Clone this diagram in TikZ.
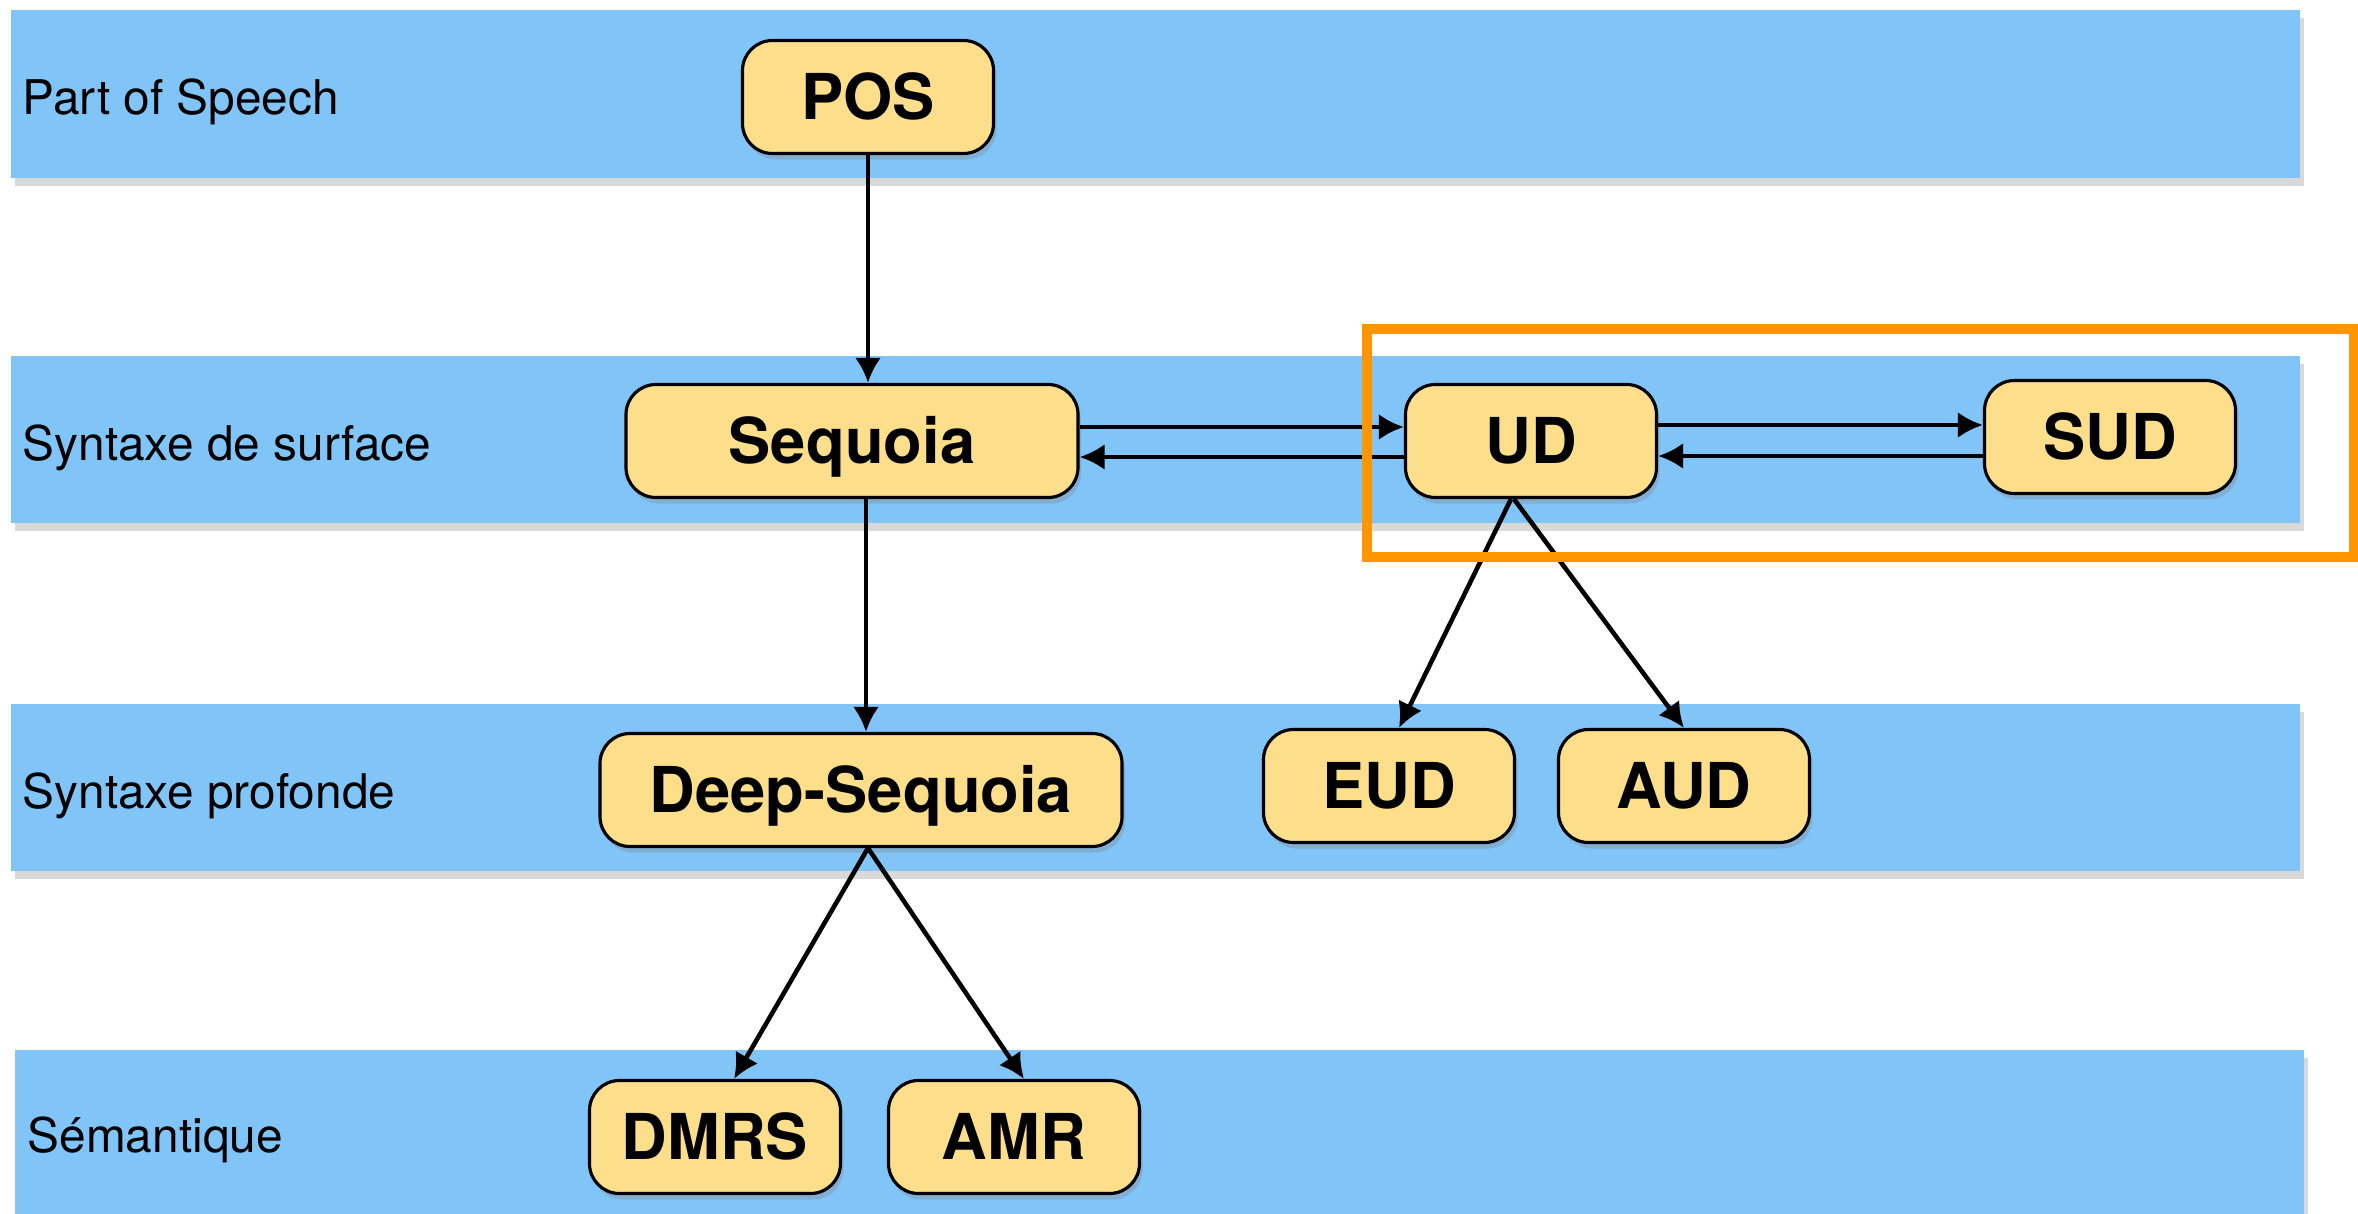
\documentclass[tikz,border=0pt]{standalone}
\usepackage{fontspec}
\setmainfont{TeX Gyre Heros}
\usepackage{xcolor}
\usetikzlibrary{arrows.meta,shadows,calc}
\definecolor{bandblue}{RGB}{128,196,248}
\definecolor{boxyellow}{RGB}{252,222,139}
\definecolor{frameorange}{RGB}{255,149,0}

\begin{document}
\begin{tikzpicture}[x=0.1mm,y=-0.1mm,
	band/.style={fill=bandblue,drop shadow={shadow xshift=0.4mm,shadow yshift=-0.8mm,opacity=0.3}},
	layer/.style={anchor=west,inner sep=0pt,font=\fontsize{13.6}{16}\selectfont},
	fmt/.style={draw=black,line width=0.9pt,fill=boxyellow,rounded corners=3mm,minimum height=11.3mm,minimum width=25.1mm,text height=13pt,text depth=0pt,font=\fontsize{18}{21}\selectfont\bfseries,drop shadow={shadow xshift=0.3mm,shadow yshift=-0.6mm,opacity=0.3}},
	conv/.style={-{Latex[length=2.5mm,width=2.6mm]},line width=1.3pt}]
	\useasboundingbox (0,0) rectangle (2358,1214);
	% layers
	\fill[band] (11,10) rectangle (2300,178);
	\fill[band] (11,356) rectangle (2300,523);
	\fill[band] (11,704) rectangle (2300,871);
	\fill[band] (15,1050) rectangle (2304,1214);
	\node[layer] (pos label) at (22,102) {Part of Speech};
	\node[layer] (surf label) at (22,448) {Syntaxe de surface};
	\node[layer] (deep label) at (22,796) {Syntaxe profonde};
	\node[layer] (sem label) at (27,1140) {Sémantique};
	% formats
	\node[fmt] (POS) at (868,97) {POS};
	\node[fmt,minimum width=45.2mm] (Sequoia) at (852,441) {Sequoia};
	\node[fmt] (UD) at (1531,441) {UD};
	\node[fmt] (SUD) at (2110,437) {SUD};
	\node[fmt,minimum width=52.2mm] (DeepSequoia) at (861,790) {Deep-Sequoia};
	\node[fmt] (EUD) at (1389,786) {EUD};
	\node[fmt] (AUD) at (1684,786) {AUD};
	\node[fmt] (DMRS) at (715,1137) {DMRS};
	\node[fmt] (AMR) at (1014,1137) {AMR};
	% conversions
	\coordinate (sq) at ([xshift=1.4mm]Sequoia.south);
	\draw[conv] (POS) -- (POS |- Sequoia.north);
	\draw[conv] (sq) -- (sq |- DeepSequoia.north);
	\draw[conv] ([yshift=1.4mm]Sequoia.east) -- ([yshift=1.4mm]UD.west);
	\draw[conv] ([yshift=-1.6mm]UD.west) -- ([yshift=-1.6mm]Sequoia.east);
	\draw[conv] ([yshift=1.6mm]UD.east) -- ([yshift=1.2mm]SUD.west);
	\draw[conv] ([yshift=-1.9mm]SUD.west) -- ([yshift=-1.5mm]UD.east);
	\draw[conv] ([xshift=-2mm]UD.south) -- ([xshift=1mm]EUD.north);
	\draw[conv] ([xshift=-1.7mm]UD.south) -- (AUD.north);
	\draw[conv] ([xshift=0.7mm]DeepSequoia.south) -- ([xshift=1.9mm]DMRS.north);
	\draw[conv] ([xshift=0.7mm]DeepSequoia.south) -- ([xshift=1mm]AMR.north);
	% highlight
	\draw[frameorange,line width=1.05mm] (1367,329) rectangle (2354,557);
\end{tikzpicture}
\end{document}
